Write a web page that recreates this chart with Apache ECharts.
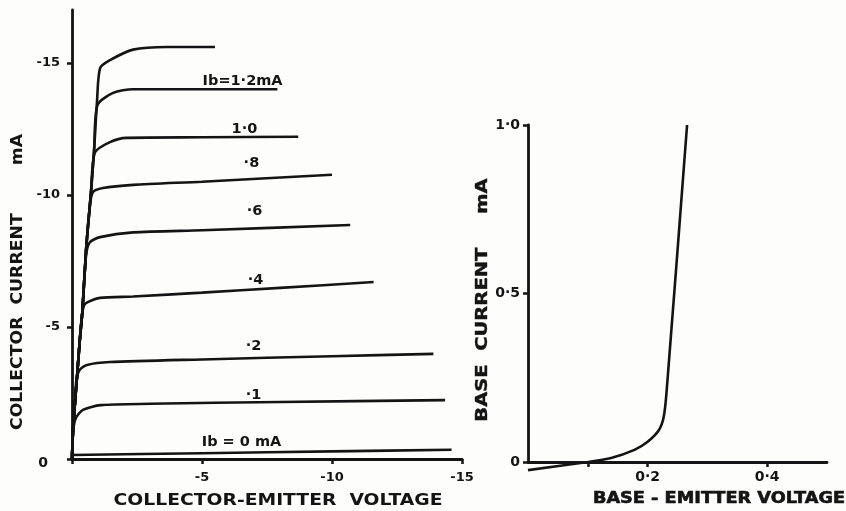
<!DOCTYPE html>
<html>
<head>
<meta charset="utf-8">
<script src="https://cdn.jsdelivr.net/npm/echarts@6/dist/echarts.min.js"></script>
<style>
html, body { margin: 0; padding: 0; background: #fdfdfc; }
#main { width: 846px; height: 511px; }
</style>
</head>
<body>
<div id="main"></div>
<script>
// collector characteristics (Vce in V, Ic in mA)
var vceTop  = [0, -0.04, -0.12, -0.2, -0.3, -0.4, -0.54, -0.73, -0.85, -0.96, -1.08, -1.46, -2.35, -3.65, -5.5];
var icTop   = [0, -1.1, -2.2, -3.2, -4.5, -5.6, -7.9, -10.1, -11.7, -13.5, -14.8, -15.1, -15.5, -15.6, -15.6];
var vceIb12 = [0, -0.04, -0.12, -0.2, -0.3, -0.4, -0.54, -0.73, -0.85, -0.98, -1.58, -2.35, -7.9];
var icIb12  = [0, -1.1, -2.2, -3.2, -4.5, -5.6, -7.9, -10.1, -11.7, -13.4, -13.86, -14.0, -14.0];
var vceIb10 = [0, -0.04, -0.12, -0.2, -0.3, -0.4, -0.54, -0.73, -0.88, -1.46, -2.1, -5, -8.7];
var icIb10  = [0, -1.1, -2.2, -3.2, -4.5, -5.6, -7.9, -10.1, -11.6, -12.0, -12.16, -12.18, -12.2];
var vceIb08 = [0, -0.04, -0.12, -0.2, -0.3, -0.4, -0.54, -0.68, -0.8, -1.19, -2.35, -5, -10];
var icIb08  = [0, -1.1, -2.2, -3.2, -4.5, -5.6, -7.9, -9.5, -10.1, -10.26, -10.38, -10.5, -10.76];
var vceIb06 = [0, -0.04, -0.12, -0.2, -0.3, -0.4, -0.54, -0.68, -1.08, -2.35, -5, -10.7];
var icIb06  = [0, -1.1, -2.2, -3.2, -4.5, -5.6, -7.7, -8.2, -8.4, -8.58, -8.66, -8.86];
var vceIb04 = [0, -0.04, -0.12, -0.2, -0.3, -0.38, -0.5, -1.08, -2.35, -5, -8, -11.6];
var icIb04  = [0, -1.1, -2.2, -3.2, -4.5, -5.4, -5.87, -6.1, -6.15, -6.3, -6.48, -6.7];
var vceIb02 = [0, -0.04, -0.12, -0.17, -0.3, -0.58, -1.46, -5, -10, -13.9];
var icIb02  = [0, -1.1, -2.2, -3.0, -3.38, -3.56, -3.67, -3.77, -3.89, -3.98];
var vceIb01 = [0, -0.05, -0.15, -0.42, -1.1, -3, -8, -14.35];
var icIb01  = [0, -1.1, -1.55, -1.86, -2.04, -2.09, -2.16, -2.23];
var vceIb0  = [0, -5, -10, -14.6];
var icIb0   = [-0.15, -0.22, -0.29, -0.35];

// curve labels
var curveLabels = ['Ib=1·2mA', '1·0', '·8', '·6', '·4', '·2', '·1', 'Ib = 0 mA'];
var labelVce    = [-6.58, -6.65, -6.92, -7.04, -7.08, -7.0, -7.0, -6.54];
var labelIc     = [-14.28, -12.46, -11.17, -9.36, -6.74, -4.24, -2.39, -0.6];

// base characteristic (Vbe in V, Ib in mA)
var vbe = [0, 0.1, 0.139, 0.178, 0.2, 0.219, 0.227, 0.232, 0.266];
var ib  = [-0.024, 0, 0.012, 0.036, 0.06, 0.095, 0.134, 0.214, 1.0];

var leftTicks = [0, -5, -10, -15];
var baseYTicks = [0, 0.5, 1];
var baseXTicks = [0.1, 0.2, 0.4];
var baseXLabels = [0.2, 0.4];

var ink = '#141414';
var font = 'DejaVu Sans';

function pairs(xs, ys) {
    var out = [];
    for (var i = 0; i < xs.length; i++) {
        out.push([xs[i], ys[i]]);
    }
    return out;
}

function dot(v) {
    return String(v).replace('.', '·');
}

function curve(name, xs, ys, idx) {
    return {
        name: name,
        type: 'line',
        xAxisIndex: idx,
        yAxisIndex: idx,
        data: pairs(xs, ys),
        showSymbol: false,
        smooth: 0.25,
        clip: false,
        lineStyle: { color: ink, width: 2.6 },
        silent: true
    };
}

var axisCommon = {
    axisLine: { onZero: true, lineStyle: { color: ink, width: 2.8 } },
    axisTick: { show: true, length: 5, lineStyle: { color: ink, width: 2.5 } },
    splitLine: { show: false },
    axisLabel: { color: ink, fontFamily: font, fontWeight: 'bold', fontSize: 13 }
};

function axis(extra) {
    var a = JSON.parse(JSON.stringify(axisCommon));
    for (var k in extra) {
        if (typeof extra[k] === 'object' && a[k] && !Array.isArray(extra[k])) {
            for (var j in extra[k]) a[k][j] = extra[k][j];
        } else {
            a[k] = extra[k];
        }
    }
    return a;
}

var chart = echarts.init(document.getElementById('main'));

var option = {
    backgroundColor: '#fdfdfc',
    animation: false,
    grid: [
        { left: 72, top: 10, width: 390, height: 449 },
        { left: 528, top: 125, width: 299, height: 337 }
    ],
    xAxis: [
        axis({
            type: 'value', gridIndex: 0, min: -15, max: 0, inverse: true,
            axisTick: { customValues: leftTicks },
            axisLabel: { customValues: leftTicks.slice(1), margin: 12 }
        }),
        axis({
            type: 'value', gridIndex: 1, min: 0, max: 0.5,
            axisTick: { customValues: baseXTicks },
            axisLabel: { customValues: baseXLabels, margin: 8, fontSize: 14, formatter: function (v) { return dot(v); } }
        })
    ],
    yAxis: [
        axis({
            type: 'value', gridIndex: 0, min: -17, max: 0, inverse: true,
            axisTick: { customValues: leftTicks },
            axisLabel: {
                customValues: leftTicks, margin: 12,
                formatter: function (v) { return v === 0 ? '{z|0}' : String(v); },
                rich: { z: { padding: [8, 12, 0, 0], color: ink, fontFamily: font, fontWeight: 'bold', fontSize: 14 } }
            }
        }),
        axis({
            type: 'value', gridIndex: 1, min: 0, max: 1,
            axisTick: { customValues: baseYTicks },
            axisLabel: { customValues: baseYTicks, margin: 8, fontSize: 14, formatter: function (v) { return v === 0 ? '0' : dot(v.toFixed(1)); } }
        })
    ],
    graphic: [
        {
            type: 'text', x: 18, y: 282, rotation: Math.PI / 2, scaleX: 1.15,
            style: { text: 'COLLECTOR  CURRENT        mA', fill: ink, font: 'bold 15px "DejaVu Sans"', align: 'center', verticalAlign: 'middle' }
        },
        {
            type: 'text', x: 278, y: 501, scaleX: 1.25,
            style: { text: 'COLLECTOR-EMITTER  VOLTAGE', fill: ink, font: 'bold 15px "DejaVu Sans"', align: 'center', verticalAlign: 'middle' }
        },
        {
            type: 'text', x: 483, y: 300, rotation: Math.PI / 2, scaleX: 1.3,
            style: { text: 'BASE  CURRENT     mA', fill: ink, font: 'bold 15px "DejaVu Sans"', align: 'center', verticalAlign: 'middle', stroke: ink, lineWidth: 0.4 }
        },
        {
            type: 'text', x: 719, y: 499, scaleX: 1.18,
            style: { text: 'BASE - EMITTER VOLTAGE', fill: ink, font: 'bold 15px "DejaVu Sans"', align: 'center', verticalAlign: 'middle', stroke: ink, lineWidth: 0.6 }
        }
    ],
    series: [
        curve('top', vceTop, icTop, 0),
        curve('1.2', vceIb12, icIb12, 0),
        curve('1.0', vceIb10, icIb10, 0),
        curve('0.8', vceIb08, icIb08, 0),
        curve('0.6', vceIb06, icIb06, 0),
        curve('0.4', vceIb04, icIb04, 0),
        curve('0.2', vceIb02, icIb02, 0),
        curve('0.1', vceIb01, icIb01, 0),
        curve('0', vceIb0, icIb0, 0),
        {
            name: 'labels',
            type: 'scatter',
            xAxisIndex: 0,
            yAxisIndex: 0,
            symbolSize: 1,
            itemStyle: { color: 'rgba(0,0,0,0)', opacity: 1 },
            data: pairs(labelVce, labelIc).map(function (p, i) {
                return { value: p, name: curveLabels[i] };
            }),
            label: {
                show: true,
                position: [0, 0],
                align: 'center',
                verticalAlign: 'middle',
                formatter: '{b}',
                color: ink,
                opacity: 1,
                textBorderWidth: 0,
                fontFamily: font,
                fontWeight: 'bold',
                fontSize: 14.5
            },
            silent: true
        },
        curve('base', vbe, ib, 1)
    ]
};

chart.setOption(option);
</script>
</body>
</html>
